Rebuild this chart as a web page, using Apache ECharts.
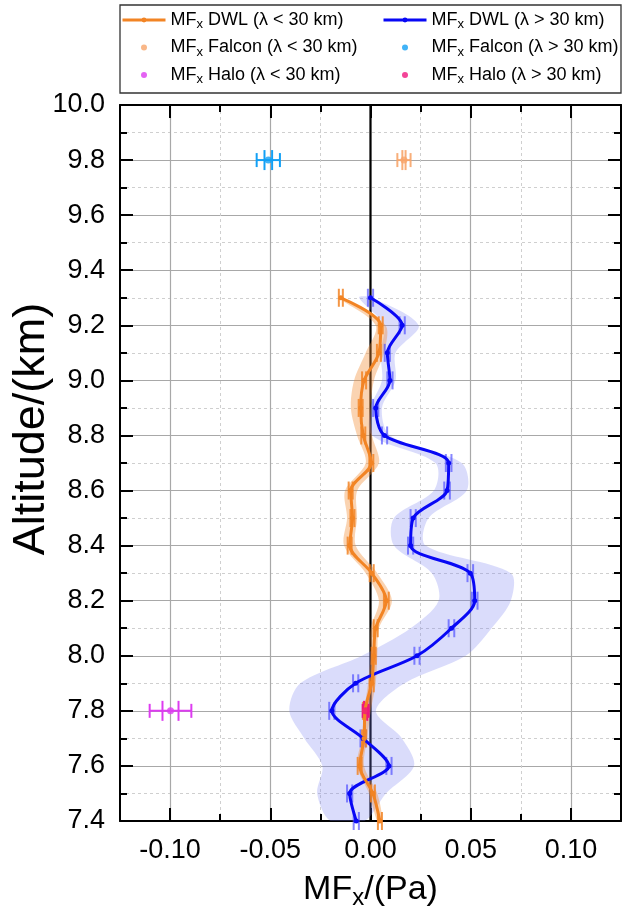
<!DOCTYPE html>
<html><head><meta charset="utf-8">
<script src="https://cdn.jsdelivr.net/npm/echarts@6/dist/echarts.min.js"></script>
<style>html,body{margin:0;padding:0;background:#fff}#c{width:622px;height:922px}</style>
</head><body><div id="c"></div>
<script>
// ---------- data ----------
const altitudes = [7.4,7.5,7.6,7.7,7.8,7.9,8.0,8.1,8.2,8.3,8.4,8.5,8.6,8.7,8.8,8.9,9.0,9.1,9.2,9.3];
// MFx DWL (λ < 30 km)
const dwlShort      = [0.0047,0.0012,-0.0054,-0.0032,-0.0028,0.0006,0.0016,0.0026,0.0079,0.0006,-0.0104,-0.0090,-0.0099,0.0004,-0.0036,-0.0049,-0.0032,0.0042,0.0051,-0.0148];
const dwlShortErr   = [0.0010,0.0010,0.0010,0.0010,0.0010,0.0010,0.0010,0.0010,0.0012,0.0010,0.0010,0.0010,0.0010,0.0010,0.0010,0.0010,0.0010,0.0010,0.0010,0.0010];
const dwlShortBandLo = [0.0034,-0.0007,-0.0067,-0.0044,-0.0032,-0.0012,0.0000,0.0001,0.0042,-0.0024,-0.0132,-0.0117,-0.0127,-0.0024,-0.0067,-0.0098,-0.0082,-0.0024,0.0026,-0.0160];
const dwlShortBandHi = [0.0059,0.0034,-0.0032,-0.0016,0.0001,0.0026,0.0034,0.0042,0.0107,0.0034,-0.0074,-0.0067,-0.0066,0.0042,0.0008,0.0001,0.0017,0.0067,0.0075,-0.0135];
// MFx DWL (λ > 30 km)
const dwlLong       = [-0.0071,-0.0104,0.0092,-0.0037,-0.0193,-0.0074,0.0232,0.0404,0.0520,0.0498,0.0200,0.0213,0.0382,0.0390,0.0070,0.0026,0.0097,0.0084,0.0158,0.0000];
const dwlLongErr    = [0.0013,0.0013,0.0013,0.0013,0.0013,0.0013,0.0013,0.0014,0.0014,0.0014,0.0013,0.0013,0.0014,0.0014,0.0013,0.0013,0.0013,0.0013,0.0013,0.0013];
const dwlLongBandLo = [-0.0200,-0.0266,-0.0240,-0.0330,-0.0405,-0.0350,-0.0043,0.0200,0.0340,0.0306,0.0117,0.0117,0.0316,0.0324,0.0008,0.0000,0.0057,0.0050,0.0067,-0.0057];
const dwlLongBandHi = [-0.0030,0.0077,0.0217,0.0157,0.0027,0.0170,0.0475,0.0604,0.0700,0.0700,0.0275,0.0290,0.0480,0.0455,0.0097,0.0057,0.0125,0.0125,0.0240,0.0007];
// Falcon / Halo single points: [x, altitude], errors [outer, inner]
const falconShort = [0.0167, 9.8];   const falconShortErr = [0.0033, 0.0008];
const falconLong  = [-0.0510, 9.8];  const falconLongErr  = [0.0058, 0.0019];
const haloShort   = [-0.0998, 7.8];  const haloShortErr   = [0.0104, 0.0040];
const haloLong    = [-0.0024, 7.8];  const haloLongErr    = [0.0015, 0.0008];
// axes
const xMin = -0.125, xMax = 0.125, xMinorStep = 0.025;
const xMajorMin = -0.10, xMajorMax = 0.10, xMajorStep = 0.05;
const yMin = 7.4, yMax = 10.0, yStep = 0.2;
const yTitle = 'Altitude/(km)';

const names = {
  dwlS: 'MFx DWL (λ < 30 km)', dwlL: 'MFx DWL (λ > 30 km)',
  falS: 'MFx Falcon (λ < 30 km)', falL: 'MFx Falcon (λ > 30 km)',
  halS: 'MFx Halo (λ < 30 km)', halL: 'MFx Halo (λ > 30 km)'
};
const C = {
  orange: '#f28424', blue: '#0808f5',
  orangeBand: 'rgba(242,140,50,0.38)', blueBand: 'rgba(120,125,240,0.27)',
  orangeErr: 'rgba(242,132,36,0.85)', blueErr: 'rgba(70,70,255,0.65)',
  falS: '#f7a56a', falL: '#12a0f5', halS: '#dd3cf0', halL: '#f0157d'
};
const FONT = '"Liberation Sans", Arial, sans-serif';

// ---------- series builders ----------
function bandSeries(name, lo, hi, color) {
  return {
    type: 'custom', name, z: 2, silent: true, clip: true,
    data: altitudes.map((a, i) => [lo[i], hi[i], a]),
    renderItem: (params, api) => {
      if (params.dataIndex !== 0) return null;
      const left = altitudes.map((a, i) => api.coord([lo[i], a]));
      const right = altitudes.map((a, i) => api.coord([hi[i], a])).reverse();
      return { type: 'polygon', shape: { points: left.concat(right), smooth: 0.3 }, style: { fill: color } };
    }
  };
}
function capSeries(name, vals, errs, color) {
  return {
    type: 'custom', name, z: 3, silent: true, clip: false,
    data: altitudes.map((a, i) => [vals[i], a, errs[i]]),
    renderItem: (params, api) => {
      const x = api.value(0), y = api.value(1), e = api.value(2);
      const l = api.coord([x - e, y]), r = api.coord([x + e, y]);
      const h = 9;
      return { type: 'group', children: [
        { type: 'line', shape: { x1: l[0], y1: l[1] - h, x2: l[0], y2: l[1] + h }, style: { stroke: color, lineWidth: 2 } },
        { type: 'line', shape: { x1: r[0], y1: r[1] - h, x2: r[0], y2: r[1] + h }, style: { stroke: color, lineWidth: 2 } }
      ]};
    }
  };
}
function pointErrSeries(name, pt, err, color) {
  return {
    type: 'custom', name, z: 3, silent: true, clip: false,
    data: [[pt[0], pt[1], err[0], err[1]]],
    renderItem: (params, api) => {
      const x = api.value(0), y = api.value(1), eo = api.value(2), ei = api.value(3);
      const lo = api.coord([x - eo, y]), ro = api.coord([x + eo, y]);
      const li = api.coord([x - ei, y]), ri = api.coord([x + ei, y]);
      const ho = 7, hi = 10;
      const st = { stroke: color, lineWidth: 2 };
      return { type: 'group', children: [
        { type: 'line', shape: { x1: lo[0], y1: lo[1], x2: ro[0], y2: ro[1] }, style: st },
        { type: 'line', shape: { x1: lo[0], y1: lo[1] - ho, x2: lo[0], y2: lo[1] + ho }, style: st },
        { type: 'line', shape: { x1: ro[0], y1: ro[1] - ho, x2: ro[0], y2: ro[1] + ho }, style: st },
        { type: 'line', shape: { x1: li[0], y1: li[1] - hi, x2: li[0], y2: li[1] + hi }, style: st },
        { type: 'line', shape: { x1: ri[0], y1: ri[1] - hi, x2: ri[0], y2: ri[1] + hi }, style: st }
      ]};
    }
  };
}
function lineSeries(name, vals, color) {
  return {
    type: 'line', name, z: 4, smooth: 0.3, symbol: 'circle', symbolSize: 5,
    data: altitudes.map((a, i) => [vals[i], a]),
    lineStyle: { width: 3, color }, itemStyle: { color }, emphasis: { disabled: true }
  };
}
function scatterSeries(name, pt, color) {
  return { type: 'scatter', name, z: 5, symbol: 'circle', symbolSize: 7, data: [pt], itemStyle: { color } };
}

// ---------- layout ----------
const G = { left: 120, top: 105, width: 501, height: 716 };
const gB = {
  left: G.left + G.width * (xMajorMin - xMin) / (xMax - xMin),
  top: G.top, height: G.height,
  width: G.width * (xMajorMax - xMajorMin) / (xMax - xMin)
};
const axisLineStyle = { color: '#000', width: 2 };
const richLegend = {
  n: { fontSize: 18, fontFamily: FONT, color: '#000', lineHeight: 22 },
  s: { fontSize: 13, fontFamily: FONT, color: '#000', verticalAlign: 'bottom', lineHeight: 14 }
};
const legendFmt = n => '{n|MF}{s|x}{n|' + n.slice(3) + '}';
const legendCommon = {
  orient: 'vertical', top: 11, itemWidth: 43, itemHeight: 6, itemGap: 7.5, padding: 0,
  lineStyle: { width: 3 },
  formatter: legendFmt, textStyle: { rich: richLegend }, selectedMode: false
};
const tickStyle = { color: '#000', width: 2 };

const option = {
  animation: false,
  backgroundColor: '#fff',
  grid: [
    { left: G.left, top: G.top, width: G.width, height: G.height, outerBoundsMode: 'none', containLabel: false },
    { left: gB.left, top: gB.top, width: gB.width, height: gB.height, outerBoundsMode: 'none', containLabel: false }
  ],
  legend: [
    Object.assign({ left: 121, data: [names.dwlS, names.falS, names.halS] }, legendCommon),
    Object.assign({ left: 382, data: [names.dwlL, names.falL, names.halL] }, legendCommon)
  ],
  graphic: [
    { type: 'rect', shape: { x: 120, y: 5, width: 501, height: 88 },
      style: { fill: 'none', stroke: '#333', lineWidth: 1.3 }, silent: true },
    { type: 'text', x: 32, y: 429, rotation: Math.PI / 2, silent: true,
      style: { text: yTitle, font: '45px ' + FONT, fill: '#000', align: 'center', verticalAlign: 'middle' } }
  ],
  xAxis: [
    { // minor grid / short ticks bottom
      gridIndex: 0, type: 'value', min: xMin, max: xMax, interval: xMinorStep, position: 'bottom',
      axisLine: { onZero: false, lineStyle: axisLineStyle }, axisLabel: { show: false },
      axisTick: { inside: true, length: 7, lineStyle: tickStyle },
      splitLine: { show: true, lineStyle: { color: '#cfcfcf', type: [3, 3], width: 1 } }
    },
    { // top
      gridIndex: 0, type: 'value', min: xMin, max: xMax, interval: xMinorStep, position: 'top',
      axisLine: { onZero: false, lineStyle: axisLineStyle }, axisLabel: { show: false },
      axisTick: { inside: true, length: 7, lineStyle: tickStyle },
      splitLine: { show: false }
    },
    { // major bottom with labels
      gridIndex: 1, type: 'value', min: xMajorMin, max: xMajorMax, interval: xMajorStep, position: 'bottom',
      axisLine: { show: false, onZero: false },
      axisTick: { inside: true, length: 13, lineStyle: tickStyle },
      axisLabel: { fontSize: 27, fontFamily: FONT, color: '#000', margin: 16, formatter: v => v.toFixed(2) },
      splitLine: { show: true, lineStyle: { color: '#a8a8a8', width: 1.2 } },
      name: '{n|MF}{s|x}{n|/(Pa)}', nameLocation: 'middle', nameGap: 49,
      nameTextStyle: { rich: {
        n: { fontSize: 34, fontFamily: FONT, color: '#000', lineHeight: 40 },
        s: { fontSize: 24, fontFamily: FONT, color: '#000', verticalAlign: 'bottom', lineHeight: 24 }
      } }
    },
    { // major top
      gridIndex: 1, type: 'value', min: xMajorMin, max: xMajorMax, interval: xMajorStep, position: 'top',
      axisLine: { show: false, onZero: false }, axisLabel: { show: false },
      axisTick: { inside: true, length: 13, lineStyle: tickStyle },
      splitLine: { show: false }
    }
  ],
  yAxis: [
    {
      gridIndex: 0, type: 'value', min: yMin, max: yMax, interval: yStep, position: 'left',
      axisLine: { onZero: false, lineStyle: axisLineStyle },
      axisTick: { inside: true, length: 13, lineStyle: tickStyle },
      minorTick: { show: true, splitNumber: 2, length: 7, lineStyle: tickStyle },
      axisLabel: { fontSize: 27, fontFamily: FONT, color: '#000', margin: 15, formatter: v => v.toFixed(1) },
      splitLine: { show: true, lineStyle: { color: '#a8a8a8', width: 1.2 } },
      minorSplitLine: { show: true, lineStyle: { color: '#cfcfcf', type: [3, 3], width: 1 } }
    },
    {
      gridIndex: 0, type: 'value', min: yMin, max: yMax, interval: yStep, position: 'right',
      axisLine: { onZero: false, lineStyle: axisLineStyle },
      axisTick: { inside: true, length: 13, lineStyle: tickStyle },
      minorTick: { show: true, splitNumber: 2, length: 7, lineStyle: tickStyle },
      axisLabel: { show: false }, splitLine: { show: false }
    },
    { gridIndex: 1, type: 'value', min: yMin, max: yMax, show: false }
  ],
  series: [
    { type: 'line', name: 'zero', z: 1, silent: true, symbol: 'none',
      data: [[0, yMin], [0, yMax]], lineStyle: { color: '#000', width: 2.2 } },
    bandSeries('bandL', dwlLongBandLo, dwlLongBandHi, C.blueBand),
    bandSeries('bandS', dwlShortBandLo, dwlShortBandHi, C.orangeBand),
    capSeries('errL', dwlLong, dwlLongErr, C.blueErr),
    capSeries('errS', dwlShort, dwlShortErr, C.orangeErr),
    lineSeries(names.dwlL, dwlLong, C.blue),
    lineSeries(names.dwlS, dwlShort, C.orange),
    pointErrSeries('errFalS', falconShort, falconShortErr, 'rgba(247,165,106,0.9)'),
    pointErrSeries('errFalL', falconLong, falconLongErr, C.falL),
    pointErrSeries('errHalS', haloShort, haloShortErr, C.halS),
    pointErrSeries('errHalL', haloLong, haloLongErr, C.halL),
    scatterSeries(names.falS, falconShort, C.falS),
    scatterSeries(names.falL, falconLong, C.falL),
    scatterSeries(names.halS, haloShort, C.halS),
    scatterSeries(names.halL, haloLong, C.halL)
  ]
};
echarts.init(document.getElementById('c'), null, { renderer: 'canvas' }).setOption(option);
</script>
</body></html>
